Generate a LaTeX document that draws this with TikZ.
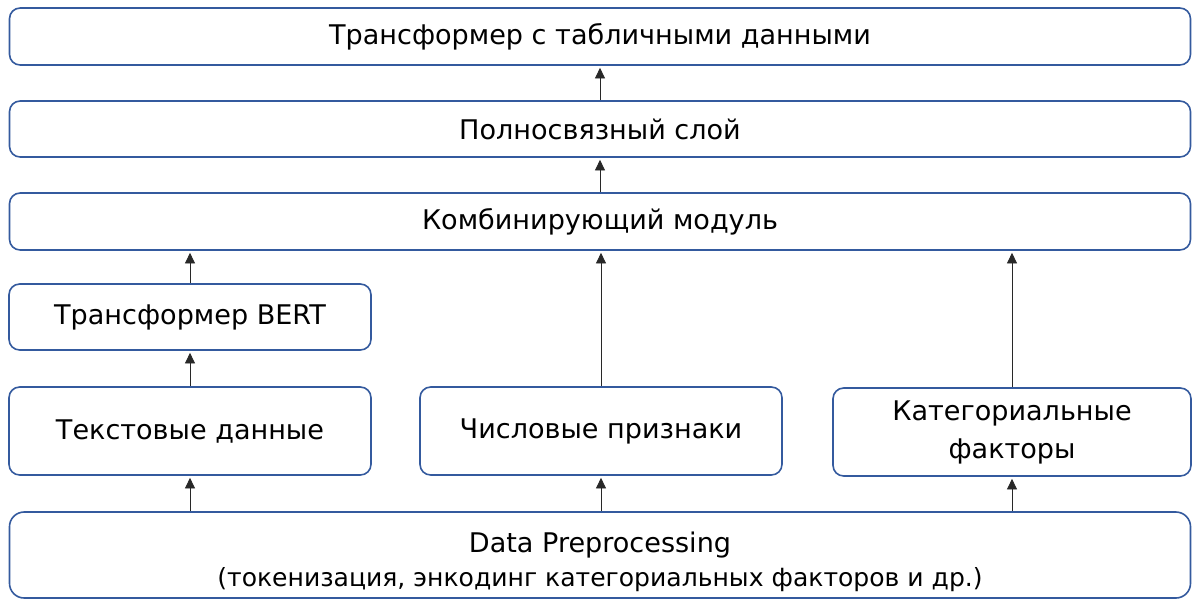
\documentclass[tikz,border=0pt]{standalone}
\usepackage{fontspec}
\setmainfont{DejaVu Sans}
\usetikzlibrary{arrows.meta}
\definecolor{boxblue}{RGB}{52,90,158}
\definecolor{arrgray}{RGB}{40,40,40}
\tikzset{
  blk/.style={draw=boxblue, line width=1.2pt, rounded corners=8pt, align=center,
    inner sep=0pt, fill=white, font=\fontsize{20.3}{28.5}\selectfont},
  wide/.style={blk, minimum width=885.75pt},
  narrow/.style={blk, minimum width=271.5pt},
  arr/.style={-{Triangle[width=7.5pt,length=8pt]}, line width=0.7pt, draw=arrgray, shorten >=1.5pt},
}
\begin{document}
\begin{tikzpicture}[x=0.75pt, y=-0.75pt, line join=round]
  \useasboundingbox (0,0) rectangle (1192,601);
  % top part
  \node[wide, minimum height=42.75pt] (tab) at (600,36.5) {Трансформер с табличными данными};
  \node[wide, minimum height=42pt] (fc) at (600,129) {Полносвязный слой};
  \node[wide, minimum height=42.75pt] (comb) at (600,221.5) {Комбинирующий модуль};
  % branches
  \node[narrow, minimum height=49.5pt] (bert) at (190,317) {Трансформер BERT};
  \node[narrow, minimum height=66pt] (txt) at (190,431) {Текстовые данные};
  \node[narrow, minimum height=66pt] (num) at (601,431) {Числовые признаки};
  \node[blk, minimum width=268.5pt, minimum height=66pt] (cat) at (1012,432) {Категориальные\\факторы};
  % preprocessing
  \node[wide, minimum height=64.5pt, rounded corners=11pt] (prep) at (600,555)
    {\rule{0pt}{26pt}Data Preprocessing\\[-3pt]{\fontsize{18.8}{22}\selectfont (токенизация, энкодинг категориальных факторов и др.)}};
  % arrows
  \draw[arr] (prep.north -| txt) -- (txt.south);
  \draw[arr] (prep.north -| num) -- (num.south);
  \draw[arr] (prep.north -| cat) -- (cat.south);
  \draw[arr] (txt) -- (bert);
  \draw[arr] (bert.north) -- (bert.north |- comb.south);
  \draw[arr] (num.north) -- (num.north |- comb.south);
  \draw[arr] (cat.north) -- (cat.north |- comb.south);
  \draw[arr] (comb) -- (fc);
  \draw[arr] (fc) -- (tab);
\end{tikzpicture}
\end{document}
